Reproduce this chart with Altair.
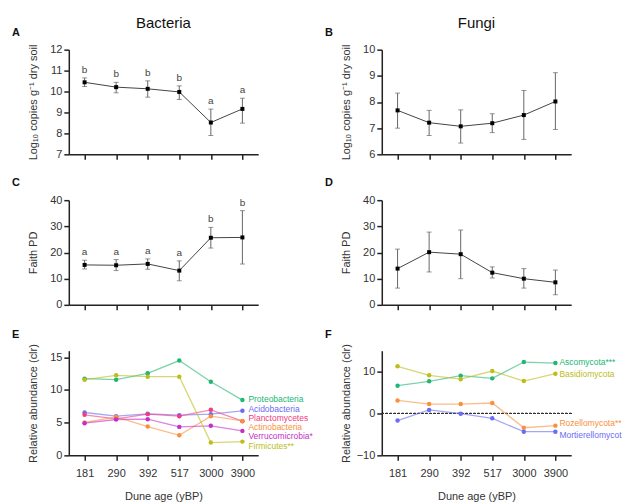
import altair as alt
import pandas as pd

FONT = "Liberation Sans"
W, H = 190, 105

ages = ["181", "290", "392", "517", "3000", "3900"]

# A: bacteria qPCR
bac_qpcr_mean = [10.44, 10.21, 10.13, 9.98, 8.52, 9.17]
bac_qpcr_lo = [10.24, 9.94, 9.73, 9.62, 7.90, 8.49]
bac_qpcr_hi = [10.65, 10.44, 10.51, 10.27, 9.16, 9.68]
bac_qpcr_sig = ["b", "b", "b", "b", "a", "a"]

# B: fungi qPCR
fun_qpcr_mean = [7.68, 7.21, 7.07, 7.19, 7.50, 8.02]
fun_qpcr_lo = [7.00, 6.72, 6.43, 6.83, 6.57, 6.95]
fun_qpcr_hi = [8.34, 7.68, 7.70, 7.55, 8.44, 9.12]

# C: bacteria Faith PD
bac_pd_mean = [15.26, 15.13, 15.64, 13.08, 25.64, 25.77]
bac_pd_lo = [13.72, 13.10, 13.60, 9.20, 21.70, 15.60]
bac_pd_hi = [17.05, 17.30, 17.56, 16.80, 29.60, 36.00]
bac_pd_sig = ["a", "a", "a", "a", "b", "b"]

# D: fungi Faith PD
fun_pd_mean = [13.85, 20.13, 19.36, 12.30, 10.00, 8.60]
fun_pd_lo = [6.40, 12.56, 10.00, 10.26, 6.40, 3.85]
fun_pd_hi = [21.30, 27.80, 28.60, 14.50, 13.85, 13.30]

# E: bacterial phyla (clr)
bac_names = ["Proteobacteria", "Acidobacteria", "Planctomycetes",
             "Actinobacteria", "Verrucomicrobia", "Firmicutes"]
bac_labels = ["Proteobacteria", "Acidobacteria", "Planctomycetes",
              "Actinobacteria", "Verrucomicrobia*", "Firmicutes**"]
bac_colors = ["#22b573", "#6b6bf5", "#f03c80", "#f7913d", "#c42fc9", "#bdbd1c"]
proteobacteria = [11.72, 11.57, 12.54, 14.49, 11.26, 8.45]
acidobacteria = [6.55, 5.99, 6.35, 6.14, 6.30, 6.81]
planctomycetes = [6.20, 5.58, 6.30, 5.99, 6.96, 5.22]
actinobacteria = [5.02, 5.89, 4.40, 3.07, 5.99, 5.27]
verrucomicrobia = [4.92, 5.48, 5.53, 4.35, 4.51, 3.74]
firmicutes = [11.57, 12.24, 12.03, 12.03, 1.95, 2.10]
bac_label_y = [8.6, 7.1, 5.65, 4.3, 2.92, 1.5]

# F: fungal phyla (clr)
fun_names = ["Ascomycota", "Basidiomycota", "Rozellomycota", "Mortierellomycota"]
fun_labels = ["Ascomycota***", "Basidiomycota", "Rozellomycota**", "Mortierellomycota*"]
fun_colors = ["#22b573", "#bdbd1c", "#f7913d", "#6b6bf5"]
ascomycota = [6.64, 7.68, 9.03, 8.39, 12.29, 12.05]
basidiomycota = [11.26, 9.11, 8.20, 10.14, 7.75, 9.50]
rozellomycota = [3.12, 2.25, 2.25, 2.50, -3.40, -2.90]
mortierellomycota = [-1.70, 0.84, -0.04, -1.16, -4.35, -4.35]
fun_label_y = [12.21, 9.43, -2.36, -5.14]


def x_enc(show):
    ax = dict(labelFontSize=11, labelPadding=7, labelAngle=0)
    if show:
        ax.update(labels=True, title="Dune age (yBP)", titlePadding=12)
    else:
        ax.update(labels=False, title="")
    return alt.X("age:N", sort=ages, scale=alt.Scale(type="point", padding=0.5),
                 axis=alt.Axis(**ax))


def y_enc(field, dom, vals, title):
    return alt.Y(field, scale=alt.Scale(domain=dom, nice=False, zero=False),
                 axis=alt.Axis(values=vals, title=title, titleX=-30, labelPadding=2))


def text_layer(txt, x, y, size, weight, align):
    return alt.Chart(pd.DataFrame({"t": [txt]})).mark_text(
        font=FONT, fontSize=size, fontWeight=weight, align=align,
        baseline="alphabetic", color="#111"
    ).encode(x=alt.value(x), y=alt.value(y), text="t:N")


def err_panel(mean, lo, hi, dom, vals, ytitle, letter, title=None, sig=None):
    df = pd.DataFrame({"age": ages, "mean": mean, "lo": lo, "hi": hi})
    if sig is not None:
        df["sig"] = sig
    base = alt.Chart(df).encode(x=x_enc(False))
    rule = base.mark_rule(color="#666", strokeWidth=1).encode(
        y=y_enc("lo:Q", dom, vals, ytitle), y2="hi:Q")
    cap_lo = base.mark_tick(color="#666", size=5, thickness=1).encode(
        y=y_enc("lo:Q", dom, vals, ytitle))
    cap_hi = base.mark_tick(color="#666", size=5, thickness=1).encode(
        y=y_enc("hi:Q", dom, vals, ytitle))
    line = base.mark_line(color="#444", strokeWidth=1).encode(
        y=y_enc("mean:Q", dom, vals, ytitle))
    pts = base.mark_square(size=16, color="#000", opacity=1).encode(
        y=y_enc("mean:Q", dom, vals, ytitle))
    layers = [rule, cap_lo, cap_hi, line, pts]
    if sig is not None:
        layers.append(base.mark_text(font=FONT, fontSize=10, color="#444",
                                     baseline="bottom", dy=-3).encode(
            y=y_enc("hi:Q", dom, vals, ytitle), text="sig:N"))
    layers.append(text_layer(letter, -57, -14, 11, "bold", "left"))
    if title is not None:
        layers.append(text_layer(title, W / 2, -22, 15, "normal", "center"))
    return alt.layer(*layers).properties(width=W, height=H)


def phyla_panel(names, labels, colors, series, label_y, dom, vals, letter,
                dx, zero_line=False, limit_last=None):
    rows = []
    for n, s in zip(names, series):
        for a, v in zip(ages, s):
            rows.append({"age": a, "phylum": n, "v": v})
    df = pd.DataFrame(rows)
    lab = pd.DataFrame({"age": ["3900"] * len(names), "phylum": names,
                        "label": labels, "ly": label_y})
    col = alt.Color("phylum:N", scale=alt.Scale(domain=names, range=colors), legend=None)
    ytitle = "Relative abundance (clr)"
    layers = []
    if zero_line:
        layers.append(alt.Chart(df).mark_rule(color="#333", strokeDash=[2, 2],
                                              strokeWidth=1).encode(
            y=alt.datum(0)))
    base = alt.Chart(df).encode(x=x_enc(True), y=y_enc("v:Q", dom, vals, ytitle), color=col)
    layers.append(base.mark_line(strokeWidth=1.3, opacity=0.6))
    layers.append(base.mark_circle(size=20, opacity=1))
    tenc = dict(x=x_enc(True), y=y_enc("ly:Q", dom, vals, ytitle), text="label:N", color=col)
    tkw = dict(font=FONT, fontSize=8.5, align="left", baseline="middle", dx=dx)
    if limit_last is None:
        layers.append(alt.Chart(lab).mark_text(**tkw).encode(**tenc))
    else:
        layers.append(alt.Chart(lab.iloc[:-1]).mark_text(**tkw).encode(**tenc))
        layers.append(alt.Chart(lab.iloc[-1:]).mark_text(
            limit=limit_last, ellipsis=" ", **tkw).encode(**tenc))
    layers.append(text_layer(letter, -57, -13, 11, "bold", "left"))
    return alt.layer(*layers).properties(width=W, height=H)


qlabel = "Log\u2081\u2080 copies g\u207b\u00b9 dry soil"

pA = err_panel(bac_qpcr_mean, bac_qpcr_lo, bac_qpcr_hi, [7, 12], [7, 8, 9, 10, 11, 12],
               qlabel, "A", title="Bacteria", sig=bac_qpcr_sig)
pB = err_panel(fun_qpcr_mean, fun_qpcr_lo, fun_qpcr_hi, [6, 10], [6, 7, 8, 9, 10],
               qlabel, "B", title="Fungi")
pC = err_panel(bac_pd_mean, bac_pd_lo, bac_pd_hi, [0, 40], [0, 10, 20, 30, 40],
               "Faith PD", "C", sig=bac_pd_sig)
pD = err_panel(fun_pd_mean, fun_pd_lo, fun_pd_hi, [0, 40], [0, 10, 20, 30, 40],
               "Faith PD", "D")
pE = phyla_panel(bac_names, bac_labels, bac_colors,
                 [proteobacteria, acidobacteria, planctomycetes, actinobacteria,
                  verrucomicrobia, firmicutes],
                 bac_label_y, [0, 16], [0, 5, 10, 15], "E", dx=6)
pF = phyla_panel(fun_names, fun_labels, fun_colors,
                 [ascomycota, basidiomycota, rozellomycota, mortierellomycota],
                 fun_label_y, [-10, 15], [-10, -5, 0, 5, 10, 15], "F", dx=4,
                 zero_line=True, limit_last=69)

chart = alt.concat(pA, pB, pC, pD, pE, pF, columns=2,
                   spacing={"row": 46, "column": 124}, bounds="flush").resolve_scale(
    color="independent"
).configure_view(
    stroke=None
).configure_axis(
    grid=False, domainColor="#222", domainWidth=1.5, tickColor="#222", tickWidth=1.5,
    tickSize=5, labelFont=FONT, labelFontSize=11, labelColor="#333",
    titleFont=FONT, titleFontSize=11, titleFontWeight="normal", titleColor="#333"
).properties(
    background="white",
    padding={"left": 4, "top": 7, "right": 0, "bottom": 0}
)

chart.save("out.html", embed_options={"renderer": "svg", "actions": False})
